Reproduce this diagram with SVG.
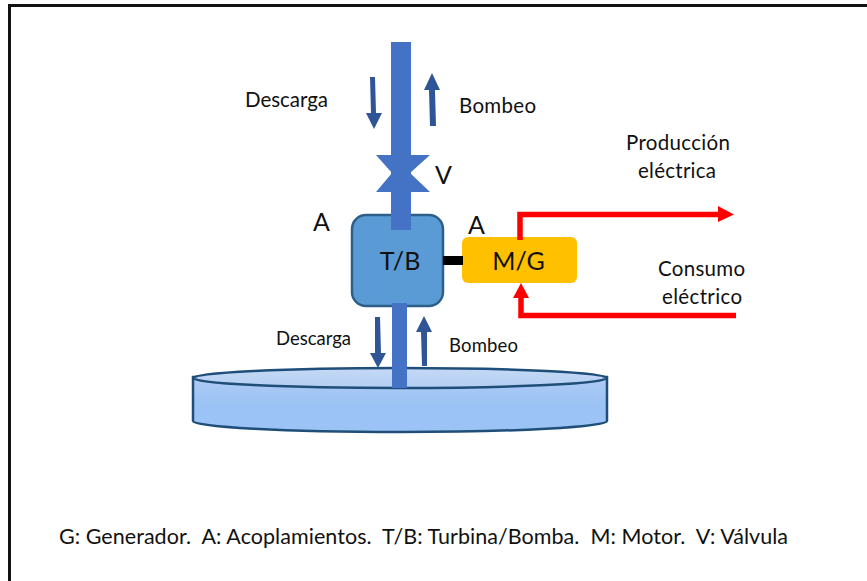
<svg xmlns="http://www.w3.org/2000/svg" width="867" height="581" viewBox="0 0 867 581">
<style>
text{font-family:Lato,"Liberation Sans",sans-serif;fill:#111}
.s{font-size:18.500px}.m{font-size:20.500px}.l{font-size:25px}.f{font-size:21.500px;white-space:pre}
.dark{fill:#2f5597}.pipe{fill:#4472c4}
.red{fill:none;stroke:#ff0000;stroke-width:5.5}
</style>
<defs><linearGradient id="top" x1="0" y1="0" x2="0" y2="1"><stop offset="0" stop-color="#c5d9f5"/><stop offset="1" stop-color="#b4cff3"/></linearGradient>
<linearGradient id="side" x1="0" y1="0" x2="0" y2="1"><stop offset="0" stop-color="#aecbf3"/><stop offset="0.5" stop-color="#9cc3f5"/><stop offset="1" stop-color="#9cc3f5"/></linearGradient></defs>
<rect x="0" y="0" width="867" height="581" fill="#fff"/>
<path d="M9.500 581V5.500H867" fill="none" stroke="#111" stroke-width="3"/>
<g id="deposito">
<path d="M193 377V421C193 427 286 432 400 432S607 427 607 421V377Z" fill="url(#side)" stroke="#1f4e79" stroke-width="2.500"/>
<ellipse cx="400" cy="378" rx="207" ry="10" fill="url(#top)" stroke="#1f4e79" stroke-width="2.500"/>
</g>
<g id="valvula"><path class="pipe" d="M376 155H430L410 173L430 192H376L392 173Z"/></g>
<g id="turbina-bomba"><rect x="352" y="215" width="91" height="91" rx="14" fill="#5b9bd5" stroke="#2e5f8a" stroke-width="2.500"/><text class="l" x="400" y="270" text-anchor="middle">T/B</text></g>
<g id="motor-generador"><rect x="462" y="237" width="115" height="46" rx="6" fill="#ffc000"/><text class="l" x="518.500" y="270" text-anchor="middle">M/G</text></g>
<g id="connectors">
<rect class="pipe" x="391" y="42" width="20" height="188"/>
<rect class="pipe" x="392" y="303" width="15" height="85"/>
<rect x="443" y="256" width="20" height="9" fill="#000"/>
<path class="dark" d="M370 77H375L376 113H382L374 129L366 113H371Z"/>
<path class="dark" d="M436 126H430L429 90H424L432 73L440 90H435Z"/>
<path class="dark" d="M375 317H380L381 353H386L378 368L370 353H375Z"/>
<path class="dark" d="M422 366H427V332H432L424 316L416 332H421Z"/>
<path class="red" d="M520 240V214.500H720"/>
<path fill="#f00" d="M718 206L734 214.500L718 222Z"/>
<path class="red" d="M736 315.500H521V296"/>
<path fill="#f00" d="M513 298L521 283L529 298Z"/>
</g>
<g id="textos">
<text class="m" x="245" y="107" textLength="83">Descarga</text>
<text class="m" x="459" y="113" textLength="77">Bombeo</text>
<text class="l" x="435" y="184">V</text>
<text class="l" x="313" y="231">A</text>
<text class="l" x="468" y="234">A</text>
<text class="m" x="626" y="150" textLength="104">Producción</text>
<text class="m" x="638" y="178" textLength="78">eléctrica</text>
<text class="m" x="658" y="276" textLength="87">Consumo</text>
<text class="m" x="662" y="304" textLength="80">eléctrico</text>
<text class="s" x="276" y="345" textLength="75">Descarga</text>
<text class="s" x="449" y="352" textLength="69">Bombeo</text>
<text class="f" x="59" y="544" textLength="729" xml:space="preserve">G: Generador.  A: Acoplamientos.  T/B: Turbina/Bomba.  M: Motor.  V: Válvula</text>
</g>
</svg>
